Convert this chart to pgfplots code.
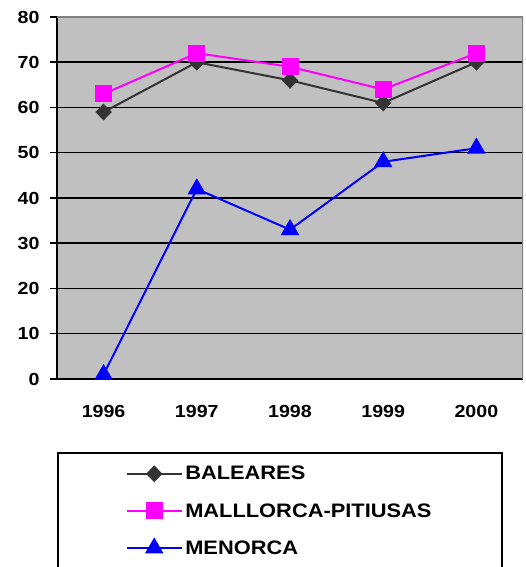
\documentclass[border=0pt]{standalone}
\usepackage{fontspec}
\setmainfont[FakeStretch=1.12]{Liberation Sans}
\usepackage{pgfplots}
\pgfplotsset{compat=1.18}

\definecolor{plotbg}{HTML}{C0C0C0}
\definecolor{baleares}{HTML}{333333}
\definecolor{mallorca}{HTML}{FF00FF}
\definecolor{menorca}{HTML}{0000FF}

\begin{document}
\begin{tikzpicture}
\useasboundingbox (0,0) rectangle (525pt,567pt);
\begin{axis}[
  scale only axis, width=466pt, height=362pt,
  at={(57pt,188pt)}, anchor=south west,
  xmin=-0.5, xmax=4.5, ymin=0, ymax=80,
  xtick={0,1,2,3,4}, xticklabels={1996,1997,1998,1999,2000},
  minor xtick={-0.5,0.5,1.5,2.5,3.5,4.5},
  ytick={0,10,...,70},
  extra y ticks={80}, extra y tick style={grid=none},
  tick align=outside, major tick length=7pt, minor tick length=7pt,
  xtick style={draw=none},
  minor x tick style={black, line width=1.5pt},
  y tick style={black, line width=1.5pt},
  axis background/.style={fill=plotbg},
  axis x line*=bottom, axis y line*=left,
  axis line style={black, line width=1.5pt, -},
  ymajorgrids, grid style={black, line width=1.5pt},
  /pgf/number format/assume math mode=true,
  ticklabel style={font=\fontsize{17.5}{20}\selectfont\bfseries},
  xticklabel style={yshift=-16pt},
  yticklabel style={xshift=-7pt},
  legend style={at={(rel axis cs:0,-0.2017)}, anchor=north west,
    draw=black, line width=1.5pt, fill=white,
    inner xsep=68pt, inner ysep=11pt, row sep=17pt,
    font=\fontsize{19.5}{22}\selectfont\bfseries,
    nodes={inner sep=2.5pt}},
  legend cell align=left,
  legend image code/.code={
    \draw[mark repeat=2, mark phase=2, line width=2pt]
      plot coordinates {(0pt,0pt) (27.5pt,0pt) (55pt,0pt)};},
]
% plot frame: gray top and right edges
\draw[gray, line width=1.5pt] (rel axis cs:0,1) -- (rel axis cs:1,1) -- (rel axis cs:1,0);
\addplot[baleares, line width=2pt, mark=diamond*, mark size=7pt,
  mark options={solid, fill=baleares, xscale=1.3}]
  coordinates {(0,59) (1,70) (2,66) (3,61) (4,70)};
\addlegendentry{BALEARES}
\addplot[mallorca, line width=2pt, mark=square*, mark size=7.5pt,
  mark options={solid, fill=mallorca}]
  coordinates {(0,63) (1,72) (2,69) (3,64) (4,72)};
\addlegendentry{MALLLORCA-PITIUSAS}
\addplot[menorca, line width=2pt, mark=triangle*, mark size=8.7pt,
  mark options={solid, fill=menorca}]
  coordinates {(0,1) (1,42) (2,33) (3,48) (4,51)};
\addlegendentry{MENORCA}
\end{axis}
\end{tikzpicture}
\end{document}
